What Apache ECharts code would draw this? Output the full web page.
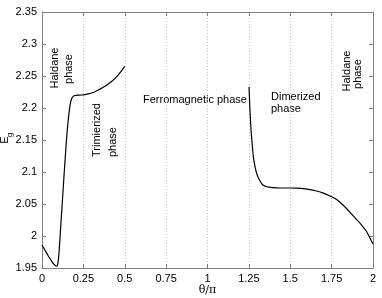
<!DOCTYPE html>
<html><head><meta charset="utf-8">
<script src="https://cdn.jsdelivr.net/npm/echarts@6/dist/echarts.min.js"></script>
<style>html,body{margin:0;padding:0;background:#fff}#c{width:382px;height:298px}</style>
</head><body><div id="c"></div>
<script>
// Left branch (theta/pi, E)
const thetaA = [0, 0.01, 0.02, 0.03, 0.04, 0.05, 0.06, 0.07, 0.08, 0.088, 0.094, 0.1, 0.105, 0.11, 0.115, 0.12, 0.125, 0.13, 0.135, 0.14, 0.145, 0.15, 0.155, 0.16, 0.165, 0.17, 0.175, 0.18, 0.19, 0.2, 0.22, 0.24, 0.26, 0.28, 0.3, 0.32, 0.34, 0.36, 0.38, 0.4, 0.42, 0.44, 0.46, 0.48, 0.5];
const energyA = [1.986, 1.9815, 1.977, 1.9725, 1.968, 1.964, 1.960, 1.9565, 1.954, 1.953, 1.955, 1.965, 1.982, 2.002, 2.022, 2.042, 2.062, 2.082, 2.102, 2.121, 2.140, 2.157, 2.172, 2.185, 2.196, 2.205, 2.211, 2.215, 2.2185, 2.2195, 2.220, 2.2203, 2.221, 2.222, 2.2235, 2.2255, 2.228, 2.231, 2.234, 2.2375, 2.2415, 2.246, 2.2515, 2.258, 2.265];
// Right branch
const thetaB = [1.251, 1.255, 1.259, 1.263, 1.268, 1.272, 1.277, 1.283, 1.29, 1.297, 1.305, 1.315, 1.327, 1.34, 1.36, 1.38, 1.42, 1.46, 1.5, 1.54, 1.58, 1.62, 1.66, 1.7, 1.75, 1.78, 1.81, 1.84, 1.87, 1.9, 1.93, 1.96, 2.0];
const energyB = [2.233, 2.205, 2.185, 2.166, 2.150, 2.137, 2.124, 2.114, 2.105, 2.098, 2.092, 2.087, 2.082, 2.079, 2.077, 2.076, 2.0753, 2.075, 2.075, 2.0748, 2.074, 2.0725, 2.0703, 2.067, 2.0612, 2.057, 2.0505, 2.043, 2.0345, 2.026, 2.0175, 2.0075, 1.9875];
const xTicks = ['0','0.25','0.5','0.75','1','1.25','1.5','1.75','2'];
const yTicks = ['1.95','2','2.05','2.1','2.15','2.2','2.25','2.3','2.35'];

const FONT = 'Liberation Sans';
const axisGray = '#7f7f7f';
const pairs = (xs, ys) => xs.map((x, i) => [x, ys[i]]);
const fmtX = v => { const i = Math.round(v / 0.25); return xTicks[i] !== undefined ? xTicks[i] : ''; };
const fmtY = v => { const i = Math.round((v - 1.95) / 0.05); return yTicks[i] !== undefined ? yTicks[i] : ''; };

const chart = echarts.init(document.getElementById('c'), null, {renderer: 'canvas'});
const txt = (t, x, y, rot, align, size) => ({
  type: 'text', x: x, y: y, rotation: rot, silent: true,
  style: {text: t, font: (size || 11) + 'px "' + FONT + '"', fill: '#000', textAlign: align || 'center', textVerticalAlign: 'middle'}
});
chart.setOption({
  animation: false,
  grid: {left: 42, right: 9, top: 12, bottom: 30, containLabel: false, outerBoundsMode: 'none'},
  xAxis: [{
    type: 'value', min: 0, max: 2, interval: 0.25,
    name: 'θ/π', nameLocation: 'middle', nameGap: 17, nameMoveOverlap: false,
    nameTextStyle: {fontFamily: 'DejaVu Serif', fontSize: 11, color: '#000'},
    axisLine: {show: true, onZero: false, lineStyle: {color: axisGray, width: 1}},
    axisTick: {inside: true, length: 4, lineStyle: {color: axisGray}},
    axisLabel: {formatter: fmtX, fontFamily: FONT, fontSize: 11, color: '#000', margin: 5},
    splitLine: {show: true, lineStyle: {color: '#c4c4c4', type: [1, 2], width: 1}}
  }, {
    type: 'value', min: 0, max: 2, interval: 0.25, position: 'top',
    axisLine: {show: true, onZero: false, lineStyle: {color: axisGray, width: 1}},
    axisTick: {inside: true, length: 4, lineStyle: {color: axisGray}},
    axisLabel: {show: false}, splitLine: {show: false}
  }],
  yAxis: [{
    type: 'value', min: 1.95, max: 2.35, interval: 0.05,
    name: 'E', nameLocation: 'middle', nameGap: 32, nameRotate: 90, nameMoveOverlap: false,
    nameTextStyle: {fontFamily: FONT, fontSize: 11, color: '#000'},
    axisLine: {show: true, onZero: false, lineStyle: {color: axisGray, width: 1}},
    axisTick: {inside: true, length: 4, lineStyle: {color: axisGray}},
    axisLabel: {formatter: fmtY, fontFamily: FONT, fontSize: 11, color: '#000', margin: 5},
    splitLine: {show: false}
  }, {
    type: 'value', min: 1.95, max: 2.35, interval: 0.05, position: 'right',
    axisLine: {show: true, onZero: false, lineStyle: {color: axisGray, width: 1}},
    axisTick: {inside: true, length: 4, lineStyle: {color: axisGray}},
    axisLabel: {show: false}, splitLine: {show: false}
  }],
  series: [{
    type: 'line', data: pairs(thetaA, energyA), showSymbol: false, smooth: 0.2,
    lineStyle: {color: '#000', width: 1.2}, silent: true
  }, {
    type: 'line', data: pairs(thetaB, energyB), showSymbol: false, smooth: 0.2,
    lineStyle: {color: '#000', width: 1.2}, silent: true
  }],
  graphic: [
    txt('g', 10, 135, Math.PI / 2, 'center', 8),
    txt('Haldane', 55, 68, Math.PI / 2),
    txt('phase', 69, 69, Math.PI / 2),
    txt('Trimierized', 97, 157, Math.PI / 2, 'left'),
    txt('phase', 113, 157, Math.PI / 2, 'left'),
    txt('Ferromagnetic phase', 143, 100, 0, 'left'),
    txt('Dimerized', 271, 97, 0, 'left'),
    txt('phase', 271, 109, 0, 'left'),
    txt('Haldane', 347, 71, Math.PI / 2),
    txt('phase', 358, 74, Math.PI / 2)
  ]
});
</script></body></html>
